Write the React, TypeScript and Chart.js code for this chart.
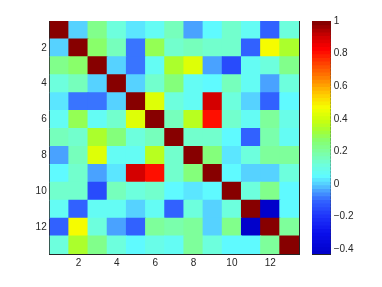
import React, { useEffect, useRef } from 'react';
import { Chart, registerables } from 'chart.js';

Chart.register(...registerables);

// ---- data: 13x13 correlation matrix, one array per row ----
const r01 = [1, 0.0, 0.22, 0.12, 0.03, 0.07, 0.17, -0.03, 0.06, 0.15, 0.08, -0.1, 0.12];
const r02 = [0.0, 1, 0.28, 0.17, -0.08, 0.29, 0.13, 0.16, 0.13, 0.15, -0.1, 0.47, 0.33];
const r03 = [0.22, 0.28, 1, 0.0, -0.08, 0.07, 0.35, 0.42, -0.03, -0.16, 0.07, 0.12, 0.24];
const r04 = [0.12, 0.17, 0.0, 1, 0.0, 0.13, 0.26, 0.07, 0.04, 0.16, 0.07, -0.03, 0.12];
const r05 = [0.03, -0.08, -0.08, 0.0, 1, 0.43, 0.12, 0.07, 0.9, 0.12, 0.0, -0.1, 0.04];
const r06 = [0.07, 0.29, 0.07, 0.13, 0.43, 1, 0.17, 0.37, 0.8, 0.13, 0.07, 0.2, 0.1];
const r07 = [0.17, 0.13, 0.35, 0.26, 0.12, 0.17, 1, 0.13, 0.13, 0.06, -0.1, 0.19, 0.07];
const r08 = [-0.03, 0.16, 0.42, 0.07, 0.07, 0.37, 0.13, 1, 0.26, 0.03, 0.12, 0.2, 0.2];
const r09 = [0.04, 0.13, -0.03, 0.03, 0.9, 0.8, 0.13, 0.26, 1, 0.06, 0.0, 0.0, 0.12];
const r10 = [0.15, 0.15, -0.16, 0.16, 0.12, 0.13, 0.06, 0.03, 0.06, 1, 0.12, 0.22, 0.06];
const r11 = [0.07, -0.1, 0.07, 0.07, 0.0, 0.07, -0.1, 0.12, 0.0, 0.12, 1, -0.43, 0.06];
const r12 = [-0.1, 0.47, 0.12, -0.03, -0.1, 0.2, 0.19, 0.2, 0.0, 0.22, -0.43, 1, 0.2];
const r13 = [0.12, 0.33, 0.24, 0.12, 0.04, 0.1, 0.07, 0.2, 0.12, 0.06, 0.06, 0.2, 1];
const matrix = [r01, r02, r03, r04, r05, r06, r07, r08, r09, r10, r11, r12, r13];

const cellIndex = [1, 2, 3, 4, 5, 6, 7, 8, 9, 10, 11, 12, 13];
const axisTicks = [2, 4, 6, 8, 10, 12];
const cbarTicks = [-0.4, -0.2, 0, 0.2, 0.4, 0.6, 0.8, 1];
const cMin = -0.43;
const cMax = 1;
const nLevels = 64;

// ---- colormap (jet-like as seen in the picture) ----
const stopVals = [-0.43, -0.3, -0.2, -0.1, -0.05, 0.0, 0.05, 0.12, 0.2, 0.27, 0.33, 0.4, 0.47, 0.55, 0.65, 0.75, 0.83, 0.91, 1.0];
const stopCols = [
  [0, 0, 200], [10, 15, 235], [30, 50, 250], [50, 100, 255], [70, 150, 255], [85, 205, 255],
  [95, 250, 255], [110, 255, 220], [125, 255, 160], [135, 255, 110], [165, 255, 50],
  [205, 255, 10], [245, 255, 0], [255, 205, 0], [255, 130, 0], [255, 60, 0], [255, 0, 0],
  [205, 0, 0], [125, 0, 0],
];

function interp(v: number): string {
  if (v <= stopVals[0]) return `rgb(${stopCols[0].join(',')})`;
  for (let i = 1; i < stopVals.length; i++) {
    if (v <= stopVals[i]) {
      const f = (v - stopVals[i - 1]) / (stopVals[i] - stopVals[i - 1]);
      const a = stopCols[i - 1], b = stopCols[i];
      const c = a.map((x, k) => Math.round(x + (b[k] - x) * f));
      return `rgb(${c.join(',')})`;
    }
  }
  return `rgb(${stopCols[stopCols.length - 1].join(',')})`;
}
function levelCenter(k: number) {
  return cMin + ((k + 0.5) / nLevels) * (cMax - cMin);
}
function colorFor(v: number): string {
  const t = (v - cMin) / (cMax - cMin);
  const k = Math.min(nLevels - 1, Math.max(0, Math.floor(t * nLevels)));
  return interp(levelCenter(k));
}

const FONT = { family: '"Liberation Sans", Arial, sans-serif', size: 10 };
const INK = '#262626';

export default function App() {
  const mainRef = useRef<HTMLCanvasElement>(null);
  const barRef = useRef<HTMLCanvasElement>(null);

  useEffect(() => {
    const cells: any[] = [];
    const colors: string[] = [];
    matrix.forEach((row, i) =>
      row.forEach((v, j) => {
        cells.push({ x: cellIndex[j], y: [cellIndex[i] - 0.5, cellIndex[i] + 0.5] });
        colors.push(colorFor(v));
      })
    );

    const setTicks = (s: any) => {
      s.ticks = axisTicks.map((v) => ({ value: v }));
    };
    const gridOpts = { drawOnChartArea: false, tickLength: -3, color: INK, offset: false };

    const main = new Chart(mainRef.current!, {
      type: 'bar',
      data: {
        datasets: [
          {
            data: cells,
            backgroundColor: colors,
            borderWidth: 0,
            barPercentage: 1,
            categoryPercentage: 1,
            inflateAmount: 0.5,
          } as any,
        ],
      },
      options: {
        animation: false,
        responsive: false,
        events: [],
        plugins: { legend: { display: false }, tooltip: { enabled: false } },
        layout: { padding: { left: 0, top: 20, right: 82, bottom: 0 } },
        scales: {
          x: {
            type: 'linear', position: 'bottom', min: 0.5, max: 13.5, offset: false,
            afterBuildTicks: setTicks,
            afterFit: (s: any) => { s.height = 33; },
            grid: gridOpts,
            border: { color: INK },
            ticks: { padding: 6, font: FONT, color: INK, autoSkip: false, maxRotation: 0 },
          },
          x2: {
            type: 'linear', position: 'top', min: 0.5, max: 13.5, offset: false,
            afterBuildTicks: setTicks,
            afterFit: (s: any) => { s.height = 1; },
            grid: gridOpts,
            border: { color: INK },
            ticks: { display: false },
          },
          y: {
            type: 'linear', position: 'left', reverse: true, min: 0.5, max: 13.5,
            afterBuildTicks: setTicks,
            afterFit: (s: any) => { s.width = 49.7; },
            grid: gridOpts,
            border: { color: INK },
            ticks: { padding: 6, font: FONT, color: INK, autoSkip: false },
          },
          y2: {
            type: 'linear', position: 'right', reverse: true, min: 0.5, max: 13.5,
            afterBuildTicks: setTicks,
            afterFit: (s: any) => { s.width = 1; },
            grid: gridOpts,
            border: { color: INK },
            ticks: { display: false },
          },
        } as any,
      },
    });

    const segs: any[] = [];
    const segCols: string[] = [];
    for (let k = 0; k < nLevels; k++) {
      const lo = cMin + (k / nLevels) * (cMax - cMin);
      const hi = cMin + ((k + 1) / nLevels) * (cMax - cMin);
      segs.push({ x: 0.5, y: [lo, hi] });
      segCols.push(interp(levelCenter(k)));
    }
    const setCbTicks = (s: any) => {
      s.ticks = cbarTicks.map((v) => ({ value: v }));
    };
    const cbar = new Chart(barRef.current!, {
      type: 'bar',
      data: {
        datasets: [
          {
            data: segs,
            backgroundColor: segCols,
            borderWidth: 0,
            barPercentage: 1,
            categoryPercentage: 1,
            inflateAmount: 0.5,
          } as any,
        ],
      },
      options: {
        animation: false,
        responsive: false,
        events: [],
        plugins: { legend: { display: false }, tooltip: { enabled: false } },
        layout: { padding: { left: 11, top: 20, right: 0, bottom: 0 } },
        scales: {
          x: {
            type: 'linear', position: 'bottom', min: 0, max: 1, offset: false,
            afterFit: (s: any) => { s.height = 33; },
            grid: { display: false, offset: false },
            border: { display: true, color: INK },
            ticks: { display: false },
          },
          xt: {
            type: 'linear', position: 'top', min: 0, max: 1, offset: false,
            afterFit: (s: any) => { s.height = 1; },
            grid: { display: false },
            border: { display: true, color: INK },
            ticks: { display: false },
          },
          y: {
            type: 'linear', position: 'right', min: cMin, max: cMax,
            afterBuildTicks: setCbTicks,
            afterFit: (s: any) => { s.width = 51.3; },
            grid: { drawOnChartArea: false, tickLength: -3, color: INK },
            border: { color: INK },
            ticks: {
              padding: 6, font: FONT, color: INK, autoSkip: false,
              callback: (v: any) => String(Math.round(Number(v) * 10) / 10).replace('-', '\u2212'),
            },
          },
          yl: {
            type: 'linear', position: 'left', min: cMin, max: cMax,
            afterBuildTicks: setCbTicks,
            afterFit: (s: any) => { s.width = 1; },
            grid: { drawOnChartArea: false, tickLength: -3, color: INK },
            border: { color: INK },
            ticks: { display: false },
          },
        } as any,
      },
    });

    return () => {
      main.destroy();
      cbar.destroy();
    };
  }, []);

  return (
    <div style={{ position: 'fixed', left: 0, top: 0, width: 382, height: 287, background: '#fff' }}>
      <canvas ref={mainRef} width={382} height={287} style={{ position: 'absolute', left: 0, top: 0 }} />
      <canvas ref={barRef} width={82} height={287} style={{ position: 'absolute', left: 300, top: 0 }} />
    </div>
  );
}
